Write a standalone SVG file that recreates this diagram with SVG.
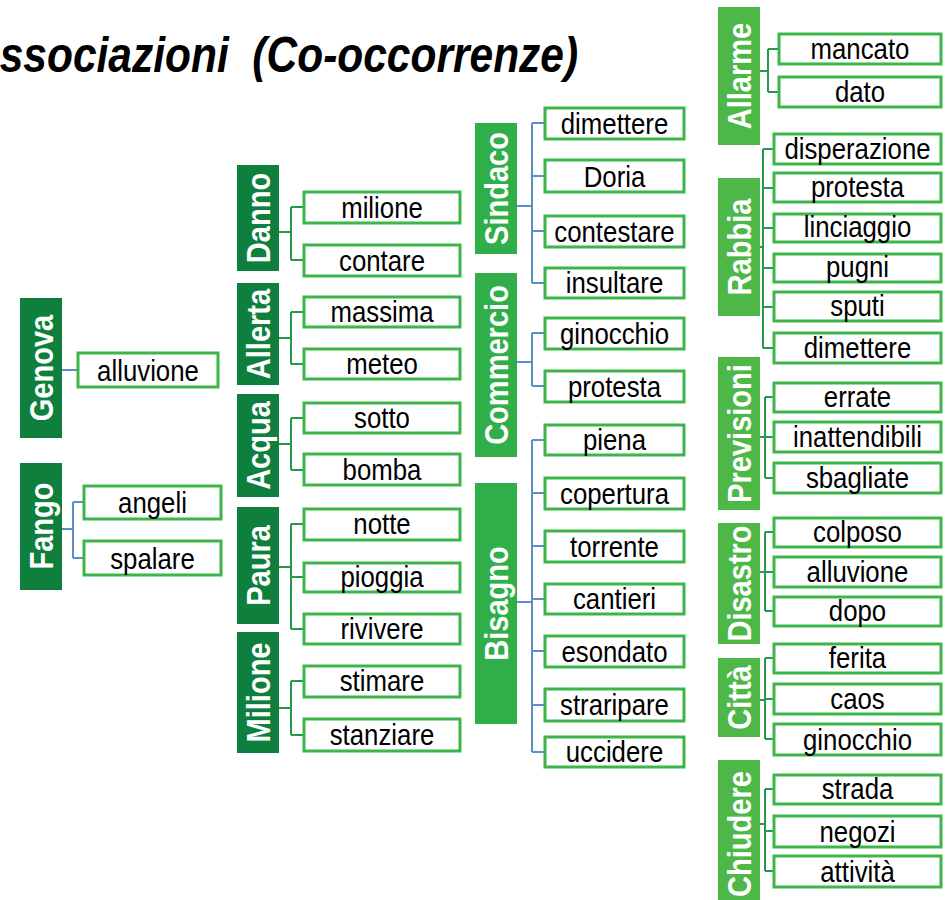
<svg xmlns="http://www.w3.org/2000/svg" width="948" height="900" viewBox="0 0 948 900">
<style>
.title{font-family:"Liberation Sans",Arial,sans-serif;font-weight:bold;font-style:italic;font-size:50px;fill:#000}
.cd{fill:#0f7f3d}
.cl{fill:#2fae4a}
.cm{fill:#4db848}
.lab{font-family:"Liberation Sans",Arial,sans-serif;font-weight:bold;font-size:33px;fill:#fff;text-anchor:middle}
.box{fill:#fff;stroke:#3db54a;stroke-width:3}
.bt{font-family:"Liberation Sans",Arial,sans-serif;font-size:30px;fill:#000;text-anchor:middle}
.cb{fill:none;stroke:#5b8ec8;stroke-width:2}
.cg{fill:none;stroke:#249a4a;stroke-width:2}
</style>
<rect width="948" height="900" fill="#fff"/>
<text class="title" transform="translate(-31,72) scale(0.85,1)" xml:space="preserve">Associazioni  (Co-occorrenze)</text>

<g id="connectors">
<path class="cb" d="M62 370H77"/>
<path class="cb" d="M62 529H73M73 502V558M73 502H83M73 558H83"/>
<path class="cg" d="M279 232H291M291 207V260M291 207H303M291 260H303"/>
<path class="cg" d="M279 338H291M291 312V364M291 312H303M291 364H303"/>
<path class="cg" d="M279 444H291M291 418V470M291 418H303M291 470H303"/>
<path class="cg" d="M279 567H291M291 524V629M291 524H303M291 577H303M291 629H303"/>
<path class="cg" d="M279 708H291M291 681V735M291 681H303M291 735H303"/>
<path class="cb" d="M517 206H532M532 123V283M532 123H544M532 176H544M532 231H544M532 283H544"/>
<path class="cb" d="M517 362H532M532 333V386M532 333H544M532 386H544"/>
<path class="cb" d="M517 602H532M532 440V752M532 440H544M532 493H544M532 546H544M532 599H544M532 651H544M532 705H544M532 752H544"/>
<path class="cg" d="M760 71H768M768 49V92M768 49H778M768 92H778"/>
<path class="cg" d="M760 247H763M763 149V348M763 149H773M763 188H773M763 228H773M763 268H773M763 307H773M763 348H773"/>
<path class="cg" d="M760 437H765M765 397V478M765 397H773M765 437H773M765 478H773"/>
<path class="cg" d="M760 572H765M765 532V611M765 532H773M765 572H773M765 611H773"/>
<path class="cg" d="M760 700H765M765 658V739M765 658H773M765 699H773M765 739H773"/>
<path class="cg" d="M760 824H765M765 789V871M765 789H773M765 831H773M765 871H773"/>
</g>

<!-- column 1 categories -->
<g id="n-genova"><rect class="cd" x="20" y="298" width="42" height="140"/><text class="lab" transform="translate(53,368) rotate(-90) scale(0.88,1)">Genova</text></g>
<g id="n-fango"><rect class="cd" x="20" y="463" width="42" height="127"/><text class="lab" transform="translate(53,526) rotate(-90) scale(0.88,1)">Fango</text></g>
<g id="b-alluvione1"><rect class="box" x="78" y="353" width="140" height="34"/><text class="bt" transform="translate(148,381) scale(0.86,1)">alluvione</text></g>
<g id="b-angeli"><rect class="box" x="84" y="486" width="137" height="33"/><text class="bt" transform="translate(152.5,513) scale(0.86,1)">angeli</text></g>
<g id="b-spalare"><rect class="box" x="84" y="541" width="137" height="34"/><text class="bt" transform="translate(152.5,569) scale(0.86,1)">spalare</text></g>

<!-- column 2 -->
<g id="n-danno"><rect class="cd" x="237" y="165" width="42" height="106"/><text class="lab" transform="translate(270,218) rotate(-90) scale(0.88,1)">Danno</text></g>
<g id="n-allerta"><rect class="cd" x="237" y="283" width="42" height="102"/><text class="lab" transform="translate(270,334) rotate(-90) scale(0.88,1)">Allerta</text></g>
<g id="n-acqua"><rect class="cd" x="237" y="394" width="42" height="103"/><text class="lab" transform="translate(270,445.5) rotate(-90) scale(0.88,1)">Acqua</text></g>
<g id="n-paura"><rect class="cd" x="237" y="507" width="42" height="117"/><text class="lab" transform="translate(270,565.5) rotate(-90) scale(0.88,1)">Paura</text></g>
<g id="n-milione"><rect class="cd" x="237" y="632" width="42" height="121"/><text class="lab" transform="translate(270,692.5) rotate(-90) scale(0.88,1)">Milione</text></g>
<g id="b-milione"><rect class="box" x="304" y="192" width="156" height="31"/><text class="bt" transform="translate(382,218) scale(0.86,1)">milione</text></g>
<g id="b-contare"><rect class="box" x="304" y="245" width="156" height="31"/><text class="bt" transform="translate(382,271) scale(0.86,1)">contare</text></g>
<g id="b-massima"><rect class="box" x="304" y="297" width="156" height="30"/><text class="bt" transform="translate(382,322) scale(0.86,1)">massima</text></g>
<g id="b-meteo"><rect class="box" x="304" y="349" width="156" height="30"/><text class="bt" transform="translate(382,374) scale(0.86,1)">meteo</text></g>
<g id="b-sotto"><rect class="box" x="304" y="403" width="156" height="30"/><text class="bt" transform="translate(382,428) scale(0.86,1)">sotto</text></g>
<g id="b-bomba"><rect class="box" x="304" y="454" width="156" height="31"/><text class="bt" transform="translate(382,480) scale(0.86,1)">bomba</text></g>
<g id="b-notte"><rect class="box" x="304" y="509" width="156" height="31"/><text class="bt" transform="translate(382,534) scale(0.86,1)">notte</text></g>
<g id="b-pioggia"><rect class="box" x="304" y="563" width="156" height="29"/><text class="bt" transform="translate(382,587) scale(0.86,1)">pioggia</text></g>
<g id="b-rivivere"><rect class="box" x="304" y="614" width="156" height="30"/><text class="bt" transform="translate(382,639) scale(0.86,1)">rivivere</text></g>
<g id="b-stimare"><rect class="box" x="304" y="666" width="156" height="31"/><text class="bt" transform="translate(382,691) scale(0.86,1)">stimare</text></g>
<g id="b-stanziare"><rect class="box" x="304" y="719" width="156" height="32"/><text class="bt" transform="translate(382,745) scale(0.86,1)">stanziare</text></g>

<!-- column 3 -->
<g id="n-sindaco"><rect class="cl" x="475" y="123" width="42" height="131"/><text class="lab" transform="translate(508,188.5) rotate(-90) scale(0.88,1)">Sindaco</text></g>
<g id="n-commercio"><rect class="cl" x="475" y="273" width="42" height="184"/><text class="lab" transform="translate(508,365) rotate(-90) scale(0.88,1)">Commercio</text></g>
<g id="n-bisagno"><rect class="cl" x="475" y="483" width="42" height="241"/><text class="lab" transform="translate(508,603.5) rotate(-90) scale(0.88,1)">Bisagno</text></g>
<g id="b-dimettere1"><rect class="box" x="545" y="108" width="139" height="31"/><text class="bt" transform="translate(614.5,134) scale(0.86,1)">dimettere</text></g>
<g id="b-doria"><rect class="box" x="545" y="160" width="139" height="32"/><text class="bt" transform="translate(614.5,187) scale(0.86,1)">Doria</text></g>
<g id="b-contestare"><rect class="box" x="545" y="216" width="139" height="31"/><text class="bt" transform="translate(614.5,242) scale(0.86,1)">contestare</text></g>
<g id="b-insultare"><rect class="box" x="545" y="268" width="139" height="30"/><text class="bt" transform="translate(614.5,293) scale(0.86,1)">insultare</text></g>
<g id="b-ginocchio1"><rect class="box" x="545" y="318" width="139" height="31"/><text class="bt" transform="translate(614.5,344) scale(0.86,1)">ginocchio</text></g>
<g id="b-protesta1"><rect class="box" x="545" y="371" width="139" height="31"/><text class="bt" transform="translate(614.5,397) scale(0.86,1)">protesta</text></g>
<g id="b-piena"><rect class="box" x="545" y="425" width="139" height="30"/><text class="bt" transform="translate(614.5,450) scale(0.86,1)">piena</text></g>
<g id="b-copertura"><rect class="box" x="545" y="478" width="139" height="31"/><text class="bt" transform="translate(614.5,504) scale(0.86,1)">copertura</text></g>
<g id="b-torrente"><rect class="box" x="545" y="531" width="139" height="31"/><text class="bt" transform="translate(614.5,557) scale(0.86,1)">torrente</text></g>
<g id="b-cantieri"><rect class="box" x="545" y="584" width="139" height="30"/><text class="bt" transform="translate(614.5,609) scale(0.86,1)">cantieri</text></g>
<g id="b-esondato"><rect class="box" x="545" y="636" width="139" height="31"/><text class="bt" transform="translate(614.5,662) scale(0.86,1)">esondato</text></g>
<g id="b-straripare"><rect class="box" x="545" y="689" width="139" height="32"/><text class="bt" transform="translate(614.5,715) scale(0.86,1)">straripare</text></g>
<g id="b-uccidere"><rect class="box" x="545" y="737" width="139" height="30"/><text class="bt" transform="translate(614.5,762) scale(0.86,1)">uccidere</text></g>

<!-- column 4 -->
<g id="n-allarme"><rect class="cm" x="718" y="7" width="42" height="138"/><text class="lab" transform="translate(751,76) rotate(-90) scale(0.88,1)">Allarme</text></g>
<g id="n-rabbia"><rect class="cm" x="718" y="178" width="42" height="138"/><text class="lab" transform="translate(751,247) rotate(-90) scale(0.88,1)">Rabbia</text></g>
<g id="n-previsioni"><rect class="cm" x="718" y="357" width="42" height="153"/><text class="lab" transform="translate(751,433.5) rotate(-90) scale(0.88,1)">Previsioni</text></g>
<g id="n-disastro"><rect class="cm" x="718" y="523" width="42" height="121"/><text class="lab" transform="translate(751,583.5) rotate(-90) scale(0.88,1)">Disastro</text></g>
<g id="n-citta"><rect class="cm" x="718" y="658" width="42" height="79"/><text class="lab" transform="translate(751,697.5) rotate(-90) scale(0.88,1)">Città</text></g>
<g id="n-chiudere"><rect class="cm" x="718" y="760" width="42" height="145"/><text class="lab" transform="translate(751,834) rotate(-90) scale(0.88,1)">Chiudere</text></g>
<g id="b-mancato"><rect class="box" x="779" y="34" width="162" height="30"/><text class="bt" transform="translate(860,59) scale(0.86,1)">mancato</text></g>
<g id="b-dato"><rect class="box" x="779" y="77" width="162" height="30"/><text class="bt" transform="translate(860,102) scale(0.86,1)">dato</text></g>
<g id="b-disperazione"><rect class="box" x="774" y="134" width="167" height="30"/><text class="bt" transform="translate(857.5,159) scale(0.86,1)">disperazione</text></g>
<g id="b-protesta2"><rect class="box" x="774" y="173" width="167" height="29"/><text class="bt" transform="translate(857.5,197) scale(0.86,1)">protesta</text></g>
<g id="b-linciaggio"><rect class="box" x="774" y="214" width="167" height="28"/><text class="bt" transform="translate(857.5,237) scale(0.86,1)">linciaggio</text></g>
<g id="b-pugni"><rect class="box" x="774" y="254" width="167" height="28"/><text class="bt" transform="translate(857.5,277) scale(0.86,1)">pugni</text></g>
<g id="b-sputi"><rect class="box" x="774" y="292" width="167" height="29"/><text class="bt" transform="translate(857.5,316) scale(0.86,1)">sputi</text></g>
<g id="b-dimettere2"><rect class="box" x="774" y="333" width="167" height="30"/><text class="bt" transform="translate(857.5,358) scale(0.86,1)">dimettere</text></g>
<g id="b-errate"><rect class="box" x="774" y="383" width="167" height="29"/><text class="bt" transform="translate(857.5,407) scale(0.86,1)">errate</text></g>
<g id="b-inattendibili"><rect class="box" x="774" y="422" width="167" height="30"/><text class="bt" transform="translate(857.5,447) scale(0.86,1)">inattendibili</text></g>
<g id="b-sbagliate"><rect class="box" x="774" y="463" width="167" height="30"/><text class="bt" transform="translate(857.5,488) scale(0.86,1)">sbagliate</text></g>
<g id="b-colposo"><rect class="box" x="774" y="518" width="167" height="29"/><text class="bt" transform="translate(857.5,542) scale(0.86,1)">colposo</text></g>
<g id="b-alluvione2"><rect class="box" x="774" y="557" width="167" height="30"/><text class="bt" transform="translate(857.5,582) scale(0.86,1)">alluvione</text></g>
<g id="b-dopo"><rect class="box" x="774" y="597" width="167" height="29"/><text class="bt" transform="translate(857.5,621) scale(0.86,1)">dopo</text></g>
<g id="b-ferita"><rect class="box" x="774" y="644" width="167" height="29"/><text class="bt" transform="translate(857.5,668) scale(0.86,1)">ferita</text></g>
<g id="b-caos"><rect class="box" x="774" y="684" width="167" height="30"/><text class="bt" transform="translate(857.5,709) scale(0.86,1)">caos</text></g>
<g id="b-ginocchio2"><rect class="box" x="774" y="724" width="167" height="31"/><text class="bt" transform="translate(857.5,750) scale(0.86,1)">ginocchio</text></g>
<g id="b-strada"><rect class="box" x="774" y="775" width="167" height="29"/><text class="bt" transform="translate(857.5,799) scale(0.86,1)">strada</text></g>
<g id="b-negozi"><rect class="box" x="774" y="816" width="167" height="31"/><text class="bt" transform="translate(857.5,842) scale(0.86,1)">negozi</text></g>
<g id="b-attivita"><rect class="box" x="774" y="856" width="167" height="31"/><text class="bt" transform="translate(857.5,882) scale(0.86,1)">attività</text></g>
</svg>
